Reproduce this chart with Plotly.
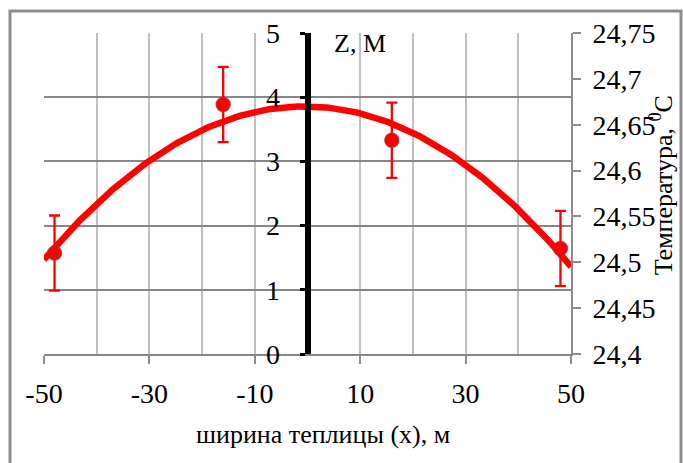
import numpy as np
import plotly.graph_objects as go

# Measured air temperature across the greenhouse width
x_pos = [-48, -16, 16, 48]                    # m
temp = [24.510, 24.672, 24.633, 24.515]       # °C
temp_err = [0.041, 0.041, 0.041, 0.041]       # °C

# Axis ticks
x_ticks = [-50, -30, -10, 10, 30, 50]
z_ticks = [0, 1, 2, 3, 4, 5]
t_ticks = [24.4, 24.45, 24.5, 24.55, 24.6, 24.65, 24.7, 24.75]
t_labels = ["24,4", "24,45", "24,5", "24,55", "24,6", "24,65", "24,7", "24,75"]

# Second-order polynomial trend through the measurements
coef = np.polyfit(x_pos, temp, 2)
x_fit = np.linspace(-50, 50, 201)
t_fit = np.polyval(coef, x_fit)

FONT = "Liberation Serif, Times New Roman, serif"
GRID_H = "#878787"
GRID_V = "#c0c0c0"
AX_GRAY = "#8c8c8c"
TICK_SIZE = 28

fig = go.Figure()

# empty trace so that the height (Z) axis gets its own subplot and is drawn
fig.add_trace(go.Scatter(x=[None], y=[None], xaxis="x", yaxis="y",
                         mode="markers", hoverinfo="skip", showlegend=False))

fig.add_trace(go.Scatter(
    x=x_fit, y=t_fit, mode="lines", yaxis="y2",
    line=dict(color="#ff0000", width=6.5), hoverinfo="skip", showlegend=False,
))

fig.add_trace(go.Scatter(
    x=x_pos, y=temp, mode="markers", yaxis="y2",
    marker=dict(color="#ff0000", size=14, line=dict(color="rgba(170,40,40,0.75)", width=1.5)),
    error_y=dict(type="data", array=temp_err, visible=True, color="#ff0000",
                 thickness=2.3, width=5.5),
    showlegend=False,
))

fig.update_layout(
    width=683, height=463,
    margin=dict(l=44, r=112, t=33, b=109),
    paper_bgcolor="white", plot_bgcolor="white",
    font=dict(family=FONT, size=26, color="black"),
    showlegend=False,
    xaxis=dict(
        range=[-50, 50], tickvals=x_ticks, ticktext=[str(v) for v in x_ticks],
        ticks="outside", ticklen=8, tickwidth=1.5, tickcolor=AX_GRAY,
        showgrid=True, gridcolor=GRID_V, gridwidth=1.5,
        minor=dict(tick0=-50, dtick=10, showgrid=True, gridcolor=GRID_V, gridwidth=1.5, ticks=""),
        showline=True, linecolor=GRID_H, linewidth=1.5,
        zeroline=False, ticklabelstandoff=6,
        tickfont=dict(size=TICK_SIZE),
    ),
    yaxis=dict(
        range=[0, 5], tickvals=z_ticks, ticktext=[str(v) for v in z_ticks],
        anchor="free", position=0.5, side="left",
        showline=True, linecolor="black", linewidth=6,
        ticks="outside", ticklen=5, tickwidth=3, tickcolor="black",
        showgrid=True, gridcolor=GRID_H, gridwidth=1.8,
        zeroline=False, ticklabelstandoff=14,
        tickfont=dict(size=TICK_SIZE),
    ),
    yaxis2=dict(
        range=[24.4, 24.75], tickvals=t_ticks, ticktext=t_labels,
        overlaying="y", side="right", anchor="x",
        showline=True, linecolor=AX_GRAY, linewidth=2,
        ticks="outside", ticklen=8, tickwidth=1.5, tickcolor=AX_GRAY,
        showgrid=False, zeroline=False, ticklabelstandoff=6,
        tickfont=dict(size=TICK_SIZE),
    ),
    annotations=[
        dict(text="ширина теплицы (x), м", xref="paper", yref="paper",
             x=0.53, y=-0.25, xanchor="center", yanchor="middle",
             showarrow=False, font=dict(size=26)),
        dict(text="Температура, <sup>0</sup>C", xref="paper", yref="paper",
             x=1.171, y=0.526, xanchor="center", yanchor="middle",
             textangle=-90, showarrow=False, font=dict(size=26)),
        dict(text="Z, М", xref="paper", yref="paper",
             x=0.547, y=0.967, xanchor="left", yanchor="middle",
             showarrow=False, font=dict(size=26)),
    ],
    shapes=[
        dict(type="rect", xref="paper", yref="paper",
             x0=-0.0645, x1=1.2087, y0=-0.4, y1=1.0685,
             line=dict(color=AX_GRAY, width=3), fillcolor="rgba(0,0,0,0)", layer="below"),
    ],
)

fig.write_html("out.html")
